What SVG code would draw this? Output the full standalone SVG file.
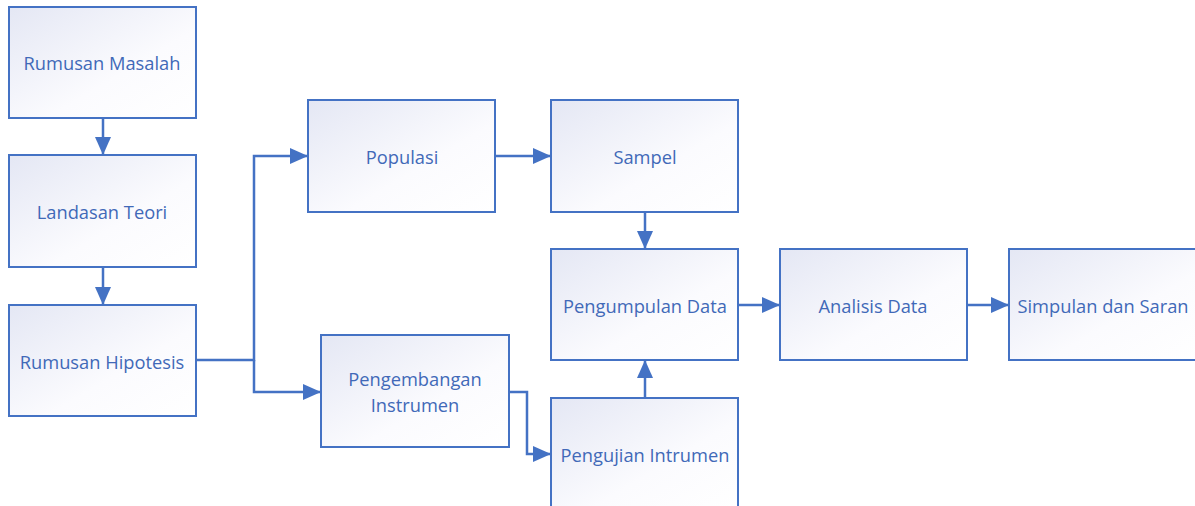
<svg xmlns="http://www.w3.org/2000/svg" width="1195" height="506" viewBox="0 0 1195 506">
<defs>
<linearGradient id="g" x1="0" y1="0" x2="1" y2="1">
<stop offset="0" stop-color="#e4e7f4"/>
<stop offset="0.6" stop-color="#fbfbfe"/>
<stop offset="1" stop-color="#ffffff"/>
</linearGradient>
<marker id="a" markerWidth="18" markerHeight="16" refX="18" refY="8" orient="auto" markerUnits="userSpaceOnUse">
<path d="M0,0 L18,8 L0,16 Z" fill="#4472c4"/>
</marker>
<style>
.b{fill:url(#g);stroke:#4472c4;stroke-width:2}
.t{font-family:"Open Sans","Liberation Sans",sans-serif;font-size:18.3px;fill:#4169b8;text-anchor:middle;dominant-baseline:central}
.c{fill:none;stroke:#4472c4;stroke-width:2.5;marker-end:url(#a)}
</style>
</defs>
<rect width="1195" height="506" fill="#ffffff"/>
<g id="connectors">
<path class="c" d="M103,118 V155"/>
<path class="c" d="M103,267 V305"/>
<path class="c" d="M196,360 H254 V156 H308"/>
<path class="c" d="M254,360 V392 H321"/>
<path class="c" d="M495,156 H551"/>
<path class="c" d="M645,212 V249"/>
<path class="c" d="M645,398 V360"/>
<path class="c" d="M509,392 H527 V454 H551"/>
<path class="c" d="M738,305 H780"/>
<path class="c" d="M967,305 H1009"/>
</g>
<g id="n1"><rect class="b" x="9" y="7" width="187" height="111"/><text class="t" x="102" y="62">Rumusan Masalah</text></g>
<g id="n2"><rect class="b" x="9" y="155" width="187" height="112"/><text class="t" x="102" y="211">Landasan Teori</text></g>
<g id="n3"><rect class="b" x="9" y="305" width="187" height="111"/><text class="t" x="102" y="361">Rumusan Hipotesis</text></g>
<g id="n4"><rect class="b" x="308" y="100" width="187" height="112"/><text class="t" x="402" y="156">Populasi</text></g>
<g id="n5"><rect class="b" x="551" y="100" width="187" height="112"/><text class="t" x="645" y="156">Sampel</text></g>
<g id="n6"><rect class="b" x="551" y="249" width="187" height="111"/><text class="t" x="645" y="305">Pengumpulan Data</text></g>
<g id="n7"><rect class="b" x="780" y="249" width="187" height="111"/><text class="t" x="873" y="305">Analisis Data</text></g>
<g id="n8"><rect class="b" x="1009" y="249" width="190" height="111"/><text class="t" x="1103" y="305">Simpulan dan Saran</text></g>
<g id="n9"><rect class="b" x="321" y="335" width="188" height="112"/><text class="t" x="415" y="378">Pengembangan</text><text class="t" x="415" y="404">Instrumen</text></g>
<g id="n10"><rect class="b" x="551" y="398" width="187" height="112"/><text class="t" x="645" y="454">Pengujian Intrumen</text></g>
</svg>
